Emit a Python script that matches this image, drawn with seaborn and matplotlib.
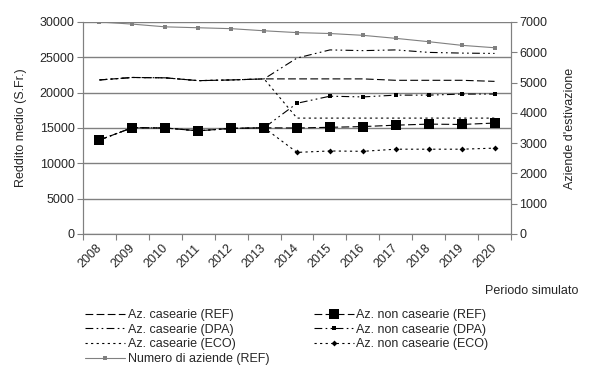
import numpy as np
import matplotlib
matplotlib.use('Agg')
import matplotlib.pyplot as plt
import matplotlib.transforms as mtransforms
import seaborn as sns

# Anni del periodo simulato
anni = ['2008', '2009', '2010', '2011', '2012', '2013', '2014',
        '2015', '2016', '2017', '2018', '2019', '2020']

# Reddito medio (S.Fr.) - aziende casearie
cas_ref = [21800, 22150, 22100, 21700, 21800, 21950, 21950, 21950, 21950, 21750, 21750, 21750, 21600]
cas_dpa = [21800, 22150, 22100, 21700, 21800, 21950, 24900, 26050, 25950, 26050, 25700, 25600, 25550]
cas_eco = [21800, 22150, 22100, 21700, 21800, 21950, 16400, 16400, 16400, 16400, 16400, 16400, 16400]

# Reddito medio (S.Fr.) - aziende non casearie
noncas_ref = [13300, 15050, 15000, 14600, 14950, 15030, 15000, 15100, 15200, 15400, 15550, 15500, 15700]
noncas_dpa = [13300, 15050, 15000, 14600, 14950, 15030, 18500, 19500, 19400, 19650, 19650, 19800, 19800]
noncas_eco = [13300, 15050, 15000, 14600, 14950, 15030, 11550, 11750, 11700, 12000, 12000, 12000, 12150]

# Numero di aziende d'estivazione (asse destro)
n_aziende = [7000, 6930, 6840, 6810, 6780, 6710, 6650, 6620, 6560, 6460, 6350, 6230, 6150]

sns.set_style('white')
plt.rcParams['font.family'] = ['Liberation Sans', 'DejaVu Sans']
plt.rcParams['font.size'] = 9

grigio = '#808080'
x = np.arange(len(anni))

fig = plt.figure(figsize=(5.89, 3.73), dpi=100)
ax = fig.add_axes([83/589, 1-234/373, 428/589, 212/373])
ax2 = ax.twinx()

lw = 0.8
tratteggio = (0, (7, 3))
tratto_punto = (0, (7, 3, 1.5, 3, 1.5, 3))
punteggiato = (0, (2, 3))

sns.lineplot(x=x, y=cas_ref, ax=ax, color='black', lw=lw, linestyle=tratteggio,
             label='Az. casearie (REF)')
sns.lineplot(x=x, y=cas_dpa, ax=ax, color='black', lw=lw, linestyle=tratto_punto,
             label='Az. casearie (DPA)')
sns.lineplot(x=x, y=cas_eco, ax=ax, color='black', lw=lw, linestyle=punteggiato,
             label='Az. casearie (ECO)')
sns.lineplot(x=x, y=noncas_ref, ax=ax, color='black', lw=lw, linestyle=tratteggio,
             marker='s', markersize=6.5, markeredgewidth=0,
             label='Az. non casearie (REF)')
sns.lineplot(x=x, y=noncas_dpa, ax=ax, color='black', lw=lw, linestyle=tratto_punto,
             marker='s', markersize=3, markeredgewidth=0,
             label='Az. non casearie (DPA)')
sns.lineplot(x=x, y=noncas_eco, ax=ax, color='black', lw=lw, linestyle=punteggiato,
             marker='D', markersize=3, markeredgewidth=0,
             label='Az. non casearie (ECO)')
sns.lineplot(x=x, y=n_aziende, ax=ax2, color=grigio, lw=lw,
             marker='s', markersize=3.5, markeredgewidth=0,
             label='Numero di aziende (REF)')

# assi
ax.set_xlim(-0.5, len(anni) - 0.5)
ax.set_ylim(0, 30000)
ax.set_yticks(np.arange(0, 30001, 5000))
ax2.set_ylim(0, 7000)
ax2.set_yticks(np.arange(0, 7001, 1000))

ax.yaxis.grid(True, color=grigio, lw=1)
ax.set_axisbelow(True)

ax.set_xticks(np.arange(-0.5, len(anni), 1))
ax.set_xticklabels([])
ax.set_xticks(x, minor=True)
ax.set_xticklabels(anni, minor=True, rotation=45, ha='right', rotation_mode='anchor')
ax.tick_params(axis='x', which='major', bottom=True, length=4, color=grigio)
ax.tick_params(axis='x', which='minor', bottom=True, length=0, pad=6)
ax.tick_params(axis='y', left=True, length=4, color=grigio, pad=2)
ax2.tick_params(axis='y', right=True, length=4, color=grigio, pad=2)

sposta = mtransforms.ScaledTranslation(-4/100, 0, fig.dpi_scale_trans)
for t in ax.get_xticklabels(minor=True):
    t.set_transform(t.get_transform() + sposta)

for a in (ax, ax2):
    for s in a.spines.values():
        s.set_color(grigio)
    a.spines['top'].set_visible(False)

ax.set_ylabel('Reddito medio (S.Fr.)', labelpad=9)
ax2.set_ylabel("Aziende d'estivazione", labelpad=12)
fig.text(578/589, 1-291/373, 'Periodo simulato', ha='right', va='center')

# legenda combinata
h1, l1 = ax.get_legend_handles_labels()
h2, l2 = ax2.get_legend_handles_labels()
ax.get_legend().remove()
ax2.get_legend().remove()
ordine = [0, 1, 2, 6, 3, 4, 5]
handles = (h1 + h2)
labels = (l1 + l2)
fig.legend([handles[i] for i in ordine], [labels[i] for i in ordine],
           ncol=2, loc='upper left', bbox_to_anchor=(80/589, 1-304/373),
           frameon=False, handlelength=3.2, handletextpad=0.2,
           columnspacing=3.6, labelspacing=0.22, borderaxespad=0)

fig.savefig('out.png', dpi=100)
